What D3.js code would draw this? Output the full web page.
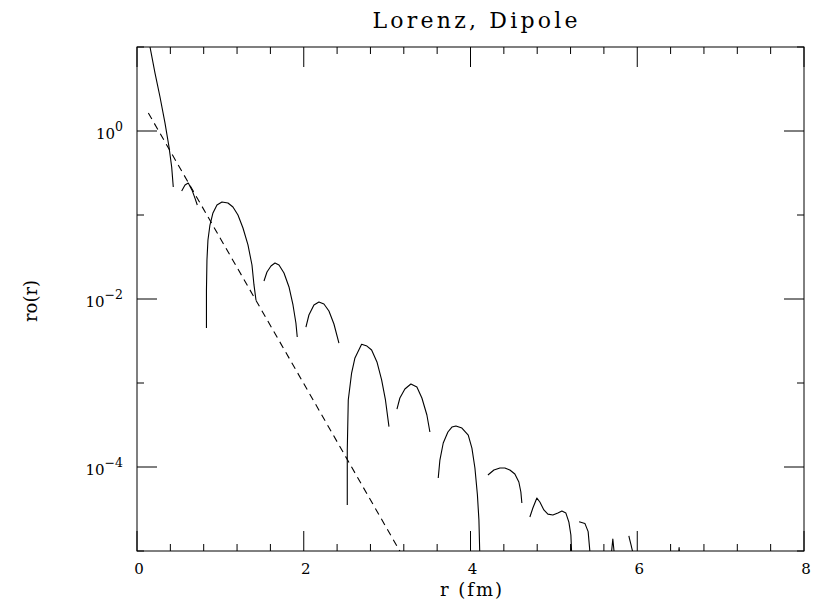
<!DOCTYPE html>
<html><head><meta charset="utf-8">
<script src="https://cdn.jsdelivr.net/npm/d3@7"></script>
<style>
html,body{margin:0;padding:0;background:#fff;}
svg text{font-family:"DejaVu Serif",serif;fill:#000;}
</style></head>
<body><svg id="chart" width="817" height="603"></svg>
<script>
// ---- data (r in fm, ro(r)) ----
const title = "Lorenz, Dipole";
const xLabel = "r (fm)";
const yLabel = "ro(r)";
const xTickLabels = [0, 2, 4, 6, 8];
const yTickExponents = [0, -2, -4];

const lobe1 = [[0.156,10.0],[0.216,4.9],[0.276,2.54],[0.336,1.24],[0.384,0.645],[0.416,0.373],[0.435,0.215]];
const lobe2 = [[0.536,0.193],[0.576,0.228],[0.615,0.240],[0.659,0.199],[0.695,0.159],[0.723,0.1315]];
const lobe3 = [[0.833,4.52e-3],[0.833,0.0128],[0.839,0.0291],[0.851,0.0504],[0.875,0.076],[0.911,0.1057],[0.959,0.1315],[1.019,0.143],[1.091,0.139],[1.151,0.1245],[1.211,0.1],[1.271,0.070],[1.331,0.044],[1.379,0.0254],[1.403,0.0147],[1.427,9.73e-3]];
const lobe4 = [[1.523,0.01637],[1.559,0.02096],[1.607,0.0247],[1.655,0.0268],[1.703,0.0254],[1.763,0.0204],[1.823,0.0139],[1.871,8.49e-3],[1.906,5.18e-3],[1.922,3.53e-3]];
const lobe5 = [[2.026,4.64e-3],[2.062,6.45e-3],[2.122,8.49e-3],[2.182,9.2e-3],[2.242,8.71e-3],[2.302,7.2e-3],[2.362,5.04e-3],[2.422,2.99e-3]];
const lobe6 = [[2.522,3.53e-5],[2.522,1.59e-4],[2.534,6.28e-4],[2.574,1.315e-3],[2.614,1.99e-3],[2.694,2.89e-3],[2.758,2.75e-3],[2.814,2.47e-3],[2.878,1.78e-3],[2.934,1.09e-3],[2.980,6.28e-4],[3.022,3.02e-4]];
const lobe7 = [[3.118,4.90e-4],[3.153,6.63e-4],[3.213,8.49e-4],[3.285,9.73e-4],[3.357,8.96e-4],[3.417,6.63e-4],[3.477,4.16e-4],[3.513,2.61e-4]];
const lobe8 = [[3.613,7.39e-5],[3.633,1.21e-4],[3.673,1.93e-4],[3.729,2.61e-4],[3.777,2.99e-4],[3.825,3.08e-4],[3.897,2.91e-4],[3.973,2.40e-4],[4.017,1.68e-4],[4.053,9.73e-5],[4.083,4.64e-5],[4.101,2.34e-5],[4.113,8e-6]];
const lobe9 = [[4.209,8.03e-5],[4.281,9.2e-5],[4.353,9.73e-5],[4.412,9.73e-5],[4.472,9.2e-5],[4.532,8.26e-5],[4.580,6.63e-5],[4.604,5.04e-5],[4.616,3.73e-5]];
const lobe10 = [[4.712,2.54e-5],[4.748,3.25e-5],[4.796,4.27e-5],[4.832,3.83e-5],[4.880,3.08e-5],[4.928,2.75e-5],[4.988,2.68e-5],[5.048,2.83e-5],[5.096,2.99e-5],[5.144,2.83e-5],[5.180,2.21e-5],[5.204,1.55e-5],[5.216,8e-6]];
const lobe11 = [[5.303,2.23e-5],[5.372,2.13e-5],[5.411,1.70e-5],[5.440,8e-6]];
const lobe12 = [[5.683,8e-6],[5.707,1.39e-5],[5.731,8e-6]];
const lobe13 = [[5.899,1.51e-5],[5.967,8e-6]];
const lobe14 = [[6.490,8e-6],[6.502,1.1e-5],[6.514,8e-6]];
const solidLobes = [lobe1,lobe2,lobe3,lobe4,lobe5,lobe6,lobe7,lobe8,lobe9,lobe10,lobe11,lobe12,lobe13,lobe14];

const dashR = [0.136, 1.0, 2.0, 3.17];
const dashV = [1.64, 0.0526, 9.84e-4, 9.3e-6];

// ---- layout ----
const svg = d3.select("#chart");
const L = 137, R = 804, T = 47, B = 551;
const x = d3.scaleLinear().domain([0, 8]).range([L, R]);
const y = d3.scaleLog().domain([1e-5, 1e1]).range([B, T]);

svg.append("defs").append("clipPath").attr("id","clip")
  .append("rect").attr("x",L).attr("y",T).attr("width",R-L).attr("height",B-T);

const ink = "#000";
svg.append("rect").attr("x",L).attr("y",T).attr("width",R-L).attr("height",B-T)
  .attr("fill","none").attr("stroke",ink).attr("stroke-width",1);

// x ticks
const xMinor = d3.range(0, 8.001, 0.4).map(v => +v.toFixed(1));
const tickG = svg.append("g").attr("stroke",ink).attr("stroke-width",1);
xMinor.forEach(v => {
  const major = Math.abs(v/2 - Math.round(v/2)) < 1e-6;
  const len = major ? 20 : 7;
  const px = x(v);
  tickG.append("line").attr("x1",px).attr("x2",px).attr("y1",B).attr("y2",B-len);
  tickG.append("line").attr("x1",px).attr("x2",px).attr("y1",T).attr("y2",T+len);
});
// y ticks
d3.range(-5, 2).forEach(e => {
  const major = (e % 2 === 0);
  const len = major ? 20 : 7;
  const py = y(Math.pow(10, e));
  tickG.append("line").attr("x1",L).attr("x2",L+len).attr("y1",py).attr("y2",py);
  tickG.append("line").attr("x1",R).attr("x2",R-len).attr("y1",py).attr("y2",py);
});

// x tick labels
svg.append("g").selectAll("text").data(xTickLabels).join("text")
  .attr("x", d => x(d) + 2).attr("y", 574)
  .attr("text-anchor","middle").attr("font-size",15)
  .text(d => d);

// y tick labels
const yl = svg.append("g").selectAll("text").data(yTickExponents).join("text")
  .attr("x", 123).attr("y", d => y(Math.pow(10,d)) + 7.5)
  .attr("text-anchor","end").attr("font-size",15);
yl.append("tspan").text("10");
yl.append("tspan").attr("dy",-8).attr("font-size",12.5).text(d => d === 0 ? "0" : "\u2212" + Math.abs(d));

// axis titles
svg.append("text").attr("x", 471).attr("y", 596).attr("text-anchor","middle")
  .attr("font-size",18).attr("textLength",62).attr("lengthAdjust","spacing").text(xLabel);
svg.append("text").attr("transform","translate(37,301) rotate(-90)")
  .attr("text-anchor","middle").attr("font-size",18).attr("textLength",42).attr("lengthAdjust","spacing").text(yLabel);
svg.append("text").attr("x", 475).attr("y", 28).attr("text-anchor","middle")
  .attr("font-size",22).attr("textLength",205).attr("lengthAdjust","spacing").text(title);

// curves
const lineLin = d3.line().x(d => x(d[0])).y(d => y(d[1]));
const cg = svg.append("g").attr("clip-path","url(#clip)");
solidLobes.forEach(seg => {
  cg.append("path").attr("d", lineLin(seg)).attr("fill","none")
    .attr("stroke",ink).attr("stroke-width",1.1).attr("stroke-linejoin","round");
});
const dashData = dashR.map((r,i) => [r, dashV[i]]);
cg.append("path").attr("d", lineLin(dashData)).attr("fill","none")
  .attr("stroke",ink).attr("stroke-width",1.1).attr("stroke-dasharray","7,5");
</script></body></html>
